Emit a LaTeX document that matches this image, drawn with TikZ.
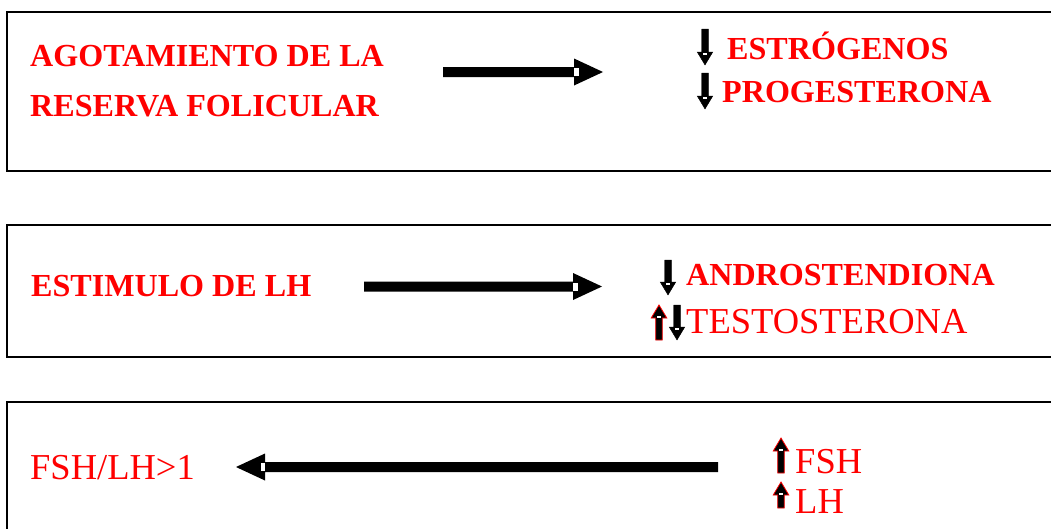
\documentclass[tikz,border=0pt]{standalone}
\usepackage{fontspec}
\setmainfont{Liberation Serif}
\usetikzlibrary{calc}

\tikzset{
  panel/.style={draw=black, line width=1.1pt},
  boldlabel/.style={anchor=base west, inner sep=0pt, text=red,
    font=\fontsize{32.1}{36}\selectfont\bfseries},
  plainlabel/.style={anchor=base west, inner sep=0pt, text=red,
    font=\fontsize{36.5}{40}\selectfont},
  downtip/.style={fill=black, draw=black, line width=0.4pt, line join=miter},
  uptip/.style={fill=black, draw=red, line width=0.8pt, line join=miter}
}

% thick horizontal block arrow: #1 tail, #2 tip, #3 = -1 (points right) or 1 (points left)
\newcommand\blockarrow[3]{%
  \fill[black] ($(#1)+(0,-5)$) -| ($(#2)+({29*(#3)},-13.5)$) -- (#2)
    -- ($(#2)+({29*(#3)},13.5)$) |- ($(#1)+(0,5)$) -- cycle;
  \fill[white] ($(#2)+({29*(#3)},-4)$) rectangle ($(#2)+({24.5*(#3)},4)$);
}

% small vertical block arrow: #1 style, #2 tail, #3 tip, #4 = 1 (down) or -1 (up)
\newcommand\thinarrow[4]{%
  \filldraw[#1] ($(#2)+(-3.3,0)$) -- ($(#3)+(-3.3,{-13*(#4)})$)
    -- ($(#3)+(-7.8,{-13*(#4)})$) -- (#3) -- ($(#3)+(7.8,{-13*(#4)})$)
    -- ($(#3)+(3.3,{-13*(#4)})$) -- ($(#2)+(3.3,0)$) -- cycle;
  \fill[white] ($(#3)+(-1.6,{-12.5*(#4)})$) rectangle ($(#3)+(1.6,{-10.5*(#4)})$);
}

\begin{document}
\begin{tikzpicture}[x=1pt, y=-1pt]
  \useasboundingbox (0,0) rectangle (1051,528);
  \clip (0,0) rectangle (1051,528);

  % three panels, open to the right and bottom
  \draw[panel] (7,12) rectangle (1070,171);
  \draw[panel] (7,225) rectangle (1070,357);
  \draw[panel] (7,402) rectangle (1070,545);

  % panel 1
  \node[boldlabel] (agot) at (30,66) {AGOTAMIENTO DE LA};
  \node[boldlabel] (reserva) at (30,116) {RESERVA FOLICULAR};
  \node[boldlabel] (estro) at (727,59) {ESTRÓGENOS};
  \node[boldlabel] (proge) at (722,102) {PROGESTERONA};
  \coordinate (a1s) at (443,72);
  \coordinate (a1e) at (603,72);
  \blockarrow{a1s}{a1e}{-1}
  \coordinate (d1s) at (705,29);  \coordinate (d1e) at (705,65);
  \coordinate (d2s) at (705,73);  \coordinate (d2e) at (705,109);
  \thinarrow{downtip}{d1s}{d1e}{1}
  \thinarrow{downtip}{d2s}{d2e}{1}

  % panel 2
  \node[boldlabel] (estim) at (31,296) {ESTIMULO DE LH};
  \node[boldlabel] (andro) at (686,285) {ANDROSTENDIONA};
  \node[plainlabel] (testo) at (686,333) {TESTOSTERONA};
  \coordinate (a2s) at (364,286.5);
  \coordinate (a2e) at (602,286.5);
  \blockarrow{a2s}{a2e}{-1}
  \coordinate (d3s) at (668,260);  \coordinate (d3e) at (668,295);
  \coordinate (u4s) at (659,340);  \coordinate (u4e) at (659,305);
  \coordinate (d5s) at (677,305);  \coordinate (d5e) at (677,340);
  \thinarrow{downtip}{d3s}{d3e}{1}
  \thinarrow{uptip}{u4s}{u4e}{-1}
  \thinarrow{downtip}{d5s}{d5e}{1}

  % panel 3
  \node[plainlabel] (ratio) at (30,479) {FSH/LH>1};
  \node[plainlabel] (fsh) at (795,473) {FSH};
  \node[plainlabel] (lh) at (795,513) {LH};
  \coordinate (a3s) at (718,467);
  \coordinate (a3e) at (236,467);
  \blockarrow{a3s}{a3e}{1}
  \coordinate (u6s) at (781,473);  \coordinate (u6e) at (781,438);
  \coordinate (u7s) at (781,508);  \coordinate (u7e) at (781,482);
  \thinarrow{uptip}{u6s}{u6e}{-1}
  \thinarrow{uptip}{u7s}{u7e}{-1}
\end{tikzpicture}
\end{document}
